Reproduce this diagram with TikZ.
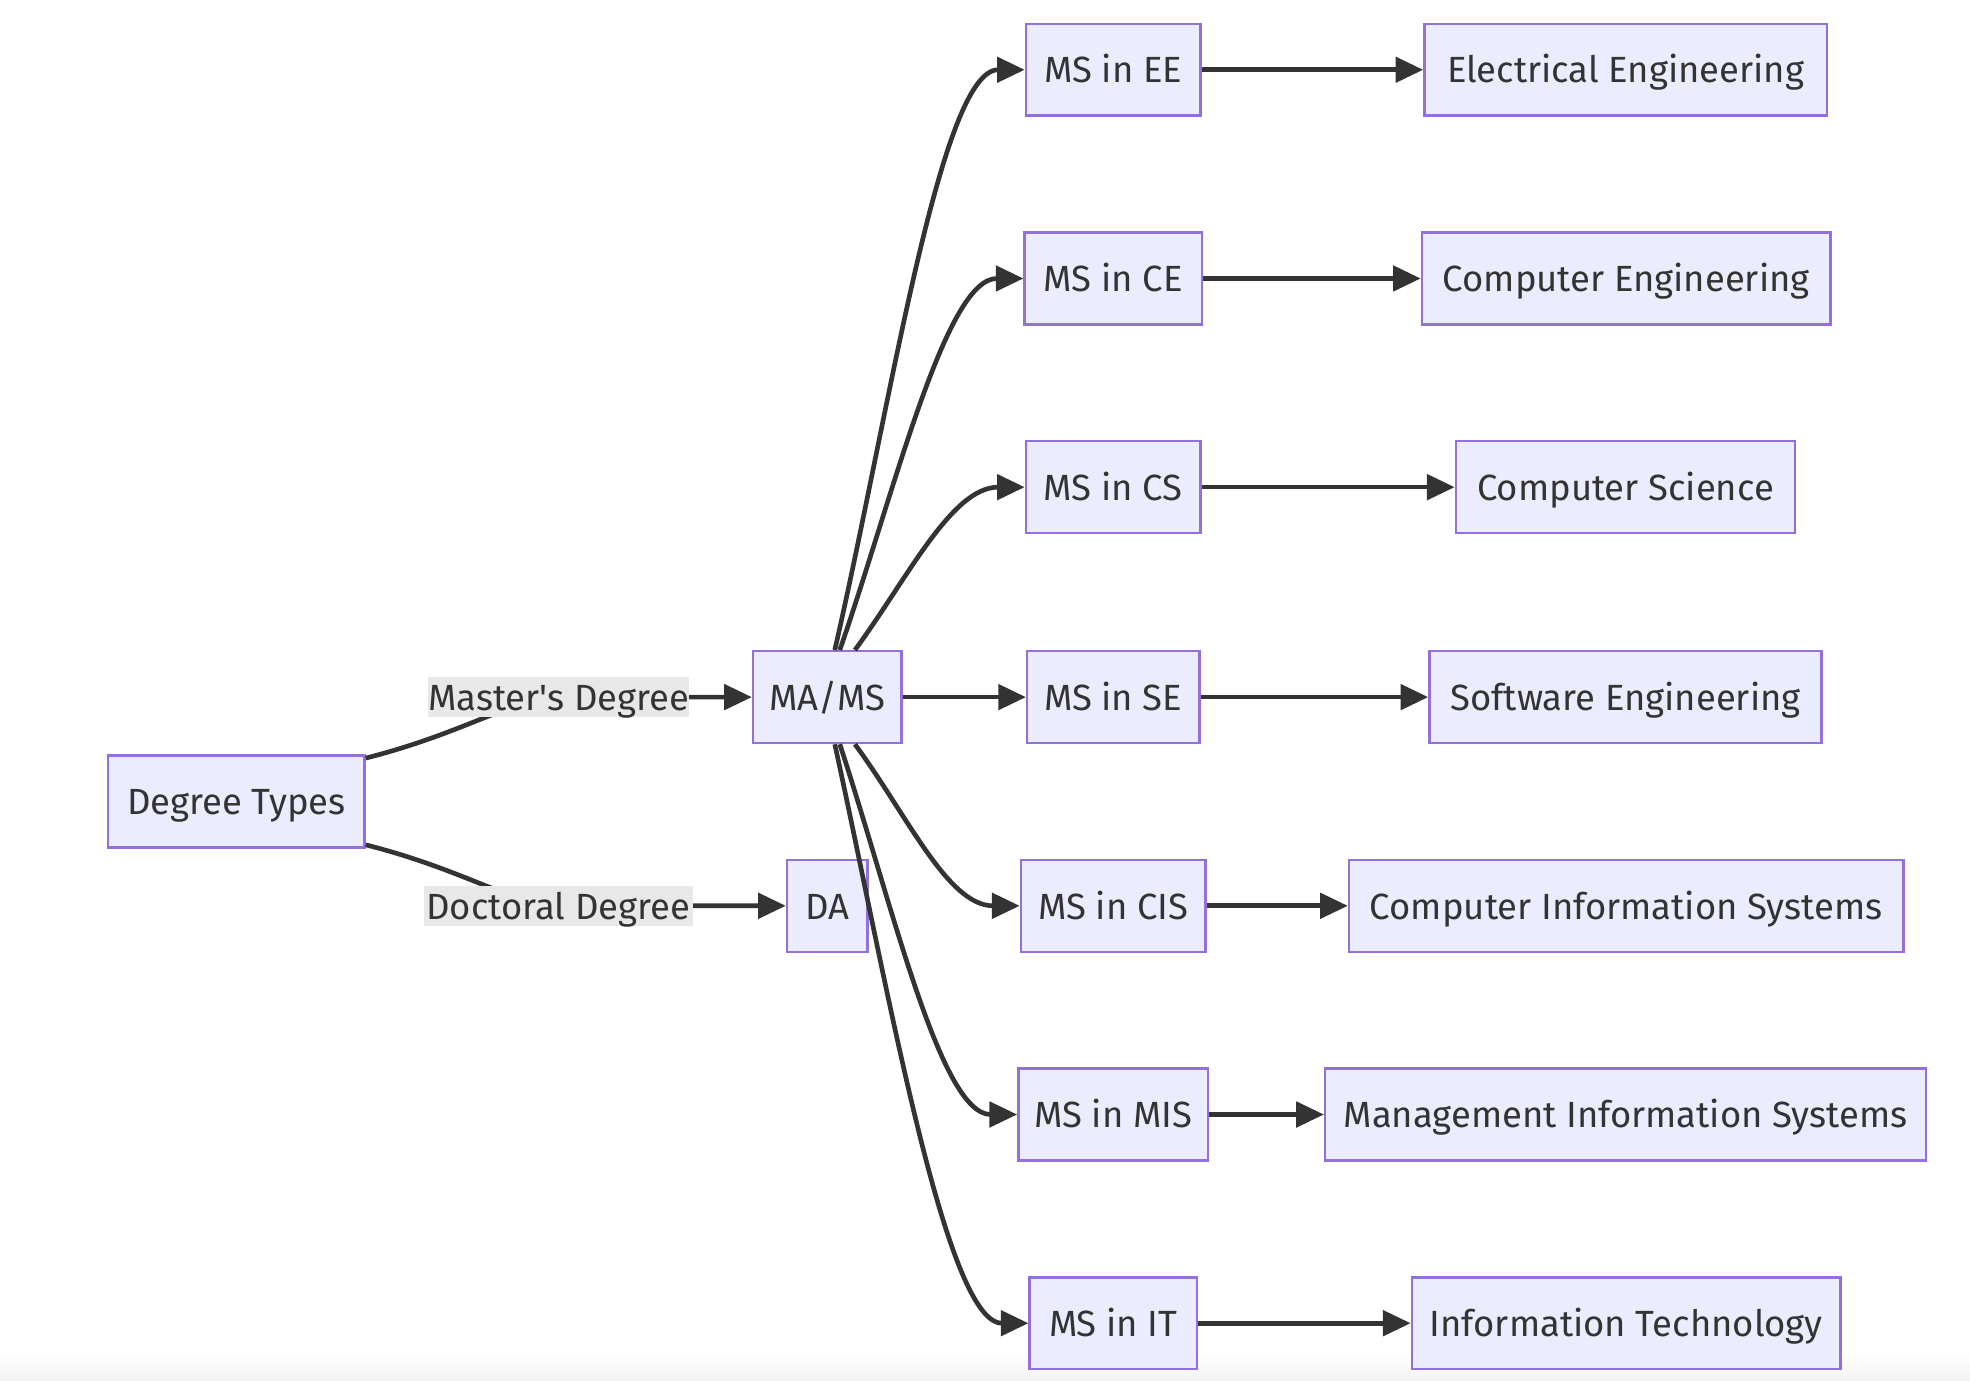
\documentclass[tikz,border=0pt]{standalone}
\usepackage{fontspec}
\newfontfamily\diagfont{Fira Sans}
\usetikzlibrary{arrows.meta,calc}
\definecolor{nodefill}{HTML}{ECECFF}
\definecolor{nodeline}{HTML}{9370DB}
\definecolor{edgecol}{HTML}{333333}
\definecolor{lblbg}{HTML}{E8E8E8}
\begin{document}
\begin{tikzpicture}[x=0.5pt,y=-0.5pt,
  box/.style={draw=nodeline,fill=nodefill,line width=0.95pt,minimum height=36.5pt,inner sep=0pt,text height=12pt,text depth=1.5pt,text=edgecol,font=\diagfont\fontsize{14.5}{17}\selectfont},
  lbl/.style={fill=lblbg,inner xsep=0pt,inner ysep=0pt,minimum height=16pt,text height=12pt,text depth=1.5pt,text=edgecol,font=\diagfont\fontsize{14.5}{17}\selectfont},
  edge/.style={draw=edgecol,line width=1.85pt,-{Triangle[length=11pt,width=10pt]}}]
\useasboundingbox (0,0) rectangle (1567,1098);
\fill[white] (0,0) rectangle (1567,1098);
\shade[top color=white,bottom color=black!5] (0,1076) rectangle (1567,1098);

% nodes
\node[box,minimum width=102pt] (dt) at (188,637.5) {Degree Types};
\node[box,minimum width=59pt] (mams) at (658,554.5) {MA/MS};
\node[box,minimum width=32pt] (da) at (658,720.5) {DA};

\node[box,minimum width=69.5pt] (ee) at (885.5,55.5) {MS in EE};
\node[box,minimum width=70.5pt] (ce) at (885.5,221.5) {MS in CE};
\node[box,minimum width=69.5pt] (cs) at (885.5,387.5) {MS in CS};
\node[box,minimum width=68.5pt] (se) at (885.5,554.5) {MS in SE};
\node[box,minimum width=73.5pt] (cis) at (885.5,720.5) {MS in CIS};
\node[box,minimum width=75.5pt] (mis) at (885.5,886.5) {MS in MIS};
\node[box,minimum width=66.5pt] (it) at (885.5,1052.5) {MS in IT};

\node[box,minimum width=160pt] (eer) at (1293,55.5) {Electrical Engineering};
\node[box,minimum width=162.5pt] (cer) at (1293.5,221.5) {Computer Engineering};
\node[box,minimum width=135pt] (csr) at (1293,387.5) {Computer Science};
\node[box,minimum width=156pt] (ser) at (1293,554.5) {Software Engineering};
\node[box,minimum width=220.5pt] (cisr) at (1293.5,720.5) {Computer Information Systems};
\node[box,minimum width=239pt] (misr) at (1293,886.5) {Management Information Systems};
\node[box,minimum width=170.5pt] (itr) at (1293.5,1052.5) {Information Technology};

% label anchors
\coordinate (mlab) at (444.5,554.5);
\coordinate (dlab) at (444,720.5);

% edges from Degree Types
\draw[edge] ($(dt.east)+(0,-34.5)$) .. controls (370,583) and (410,554.5) .. (mlab) -- (mams.west);
\draw[edge] ($(dt.east)+(0,34.5)$) .. controls (370,692) and (410,720.5) .. (dlab) -- (da.west);

% fan out from MA/MS
\draw[edge] ($(mams.north)+(6,0)$) .. controls (708,325) and (748,55.5) .. (ee.west);
\draw[edge] ($(mams.north)+(10,0)$) .. controls (712,390) and (752,221.5) .. (ce.west);
\draw[edge] ($(mams.north)+(22,0)$) .. controls (722,460) and (757,387.5) .. (cs.west);
\draw[edge] (mams.east) -- (se.west);
\draw[edge] ($(mams.south)+(22,0)$) .. controls (722,649) and (754,720.5) .. (cis.west);
\draw[edge] ($(mams.south)+(10,0)$) .. controls (710,720) and (748,886.5) .. (mis.west);
\draw[edge] ($(mams.south)+(6,0)$) .. controls (706,784) and (752,1052.5) .. (it.west);

% to right column
\draw[edge] (ee.east) -- (eer.west);
\draw[edge] (ce.east) -- (cer.west);
\draw[edge] (cs.east) -- (csr.west);
\draw[edge] (se.east) -- (ser.west);
\draw[edge] (cis.east) -- (cisr.west);
\draw[edge] (mis.east) -- (misr.west);
\draw[edge] (it.east) -- (itr.west);

% edge labels
\node[lbl,minimum width=103.5pt] (mlabel) at (mlab) {Master's Degree};
\node[lbl,minimum width=107pt] (dlabel) at (dlab) {Doctoral Degree};
\end{tikzpicture}
\end{document}
